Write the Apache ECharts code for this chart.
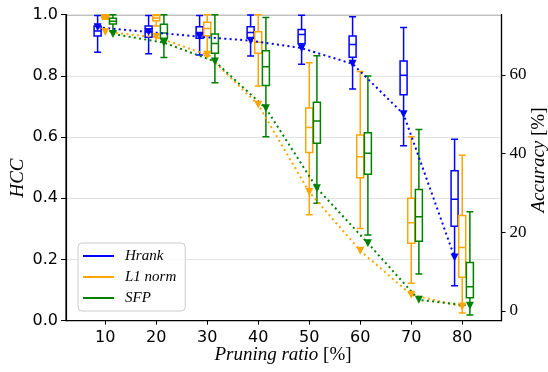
<!DOCTYPE html>
<html>
<head>
<meta charset="utf-8">
<script src="https://cdn.jsdelivr.net/npm/echarts@6/dist/echarts.min.js"></script>
<style>
  html, body {margin: 0; padding: 0; background: #fff;}
  #chart {width: 548px; height: 372px;}
</style>
</head>
<body>
<div id="chart"></div>
<script>
// pruning ratios (x categories)
const ratios = [10, 20, 30, 40, 50, 60, 70, 80];
// box plot stats per ratio: [min, Q1, median, Q3, max] of HCC
const hrankBox = [
  [0.877, 0.930, 0.947, 0.963, 0.997],
  [0.872, 0.926, 0.944, 0.963, 0.997],
  [0.868, 0.923, 0.942, 0.961, 0.997],
  [0.865, 0.923, 0.942, 0.961, 0.999],
  [0.838, 0.905, 0.935, 0.952, 0.998],
  [0.757, 0.861, 0.903, 0.930, 0.993],
  [0.572, 0.738, 0.802, 0.849, 0.958],
  [0.114, 0.309, 0.397, 0.490, 0.593]
];
const l1Box = [
  [0.985, 0.990, 0.995, 1.000, 1.000],
  [0.963, 0.980, 0.989, 0.997, 1.000],
  [0.866, 0.931, 0.955, 0.975, 1.000],
  [0.767, 0.874, 0.910, 0.944, 1.000],
  [0.346, 0.550, 0.631, 0.695, 0.843],
  [0.301, 0.467, 0.536, 0.607, 0.814],
  [0.122, 0.253, 0.320, 0.400, 0.601],
  [0.025, 0.142, 0.239, 0.344, 0.541]
];
const sfpBox = [
  [0.945, 0.970, 0.979, 0.988, 1.000],
  [0.860, 0.923, 0.940, 0.969, 1.000],
  [0.778, 0.874, 0.906, 0.937, 1.000],
  [0.601, 0.769, 0.830, 0.882, 0.991],
  [0.384, 0.580, 0.653, 0.714, 0.866],
  [0.280, 0.479, 0.547, 0.614, 0.800],
  [0.153, 0.260, 0.340, 0.429, 0.625],
  [0.019, 0.075, 0.111, 0.190, 0.356]
];
// accuracy [%] per ratio (right axis)
const hrankAcc = [72.1, 70.9, 69.7, 68.7, 66.8, 62.8, 50.0, 13.6];
const l1Acc = [70.9, 69.6, 65.1, 52.4, 30.2, 15.3, 4.1, 1.1];
const sfpAcc = [70.4, 68.2, 63.4, 51.5, 31.2, 17.2, 2.8, 1.3];
// tick labels
const accTicks = [0, 20, 40, 60];

const methods = [
  {name: 'Hrank', color: '#0000ff', box: hrankBox, acc: hrankAcc, shift: -1.5},
  {name: 'L1 norm', color: '#ffa500', box: l1Box, acc: l1Acc, shift: 0},
  {name: 'SFP', color: '#008000', box: sfpBox, acc: sfpAcc, shift: 1.5}
];

const sans = 'DejaVu Sans';
const serif = 'Liberation Serif';
const xMin = 2.3, xMax = 87.7;

const chart = echarts.init(document.getElementById('chart'));

const lineSeries = methods.map(m => ({
  name: m.name,
  type: 'line',
  xAxisIndex: 0,
  yAxisIndex: 1,
  data: ratios.map((r, i) => [r + m.shift, m.acc[i]]),
  symbol: 'triangle',
  symbolRotate: 180,
  symbolSize: 8,
  itemStyle: {color: m.color},
  lineStyle: {color: m.color, width: 2, type: [2, 3.3]},
  z: 4
}));

// each box series sits on its own (hidden) x axis so echarts does not shift them apart
const boxSeries = methods.map((m, k) => ({
  name: m.name,
  type: 'boxplot',
  xAxisIndex: k + 1,
  yAxisIndex: 0,
  dimensions: ['pos', 'min', 'Q1', 'median', 'Q3', 'max'],
  encode: {x: 'pos', y: ['min', 'Q1', 'median', 'Q3', 'max']},
  data: ratios.map((r, i) => [r + m.shift].concat(m.box[i])),
  boxWidth: [7, 7],
  itemStyle: {color: 'rgba(0,0,0,0)', borderColor: m.color, borderWidth: 1.5},
  z: 3
}));

const hiddenX = () => ({type: 'value', min: xMin, max: xMax, show: false});

chart.setOption({
  animation: false,
  grid: {
    left: 66, right: 46.5, top: 14.7, bottom: 51.3,
    show: true, borderColor: '#000', borderWidth: 1.2, backgroundColor: 'transparent'
  },
  legend: {
    orient: 'vertical',
    left: 78, top: 243,
    padding: [5, 9, 5, 5],
    itemGap: 5,
    itemWidth: 31, itemHeight: 2,
    backgroundColor: 'rgba(255,255,255,0.85)',
    borderColor: '#cccccc', borderWidth: 1, borderRadius: 4,
    textStyle: {fontFamily: serif, fontStyle: 'italic', fontSize: 15, color: '#000', padding: [0, 0, 0, 6], lineHeight: 16},
    data: methods.map(m => ({name: m.name, icon: 'rect', itemStyle: {color: m.color, borderWidth: 0}}))
  },
  xAxis: [
    {
      type: 'value',
      min: xMin, max: xMax,
      axisLine: {show: true, lineStyle: {color: '#000', width: 1.2}},
      axisTick: {show: true, length: 4, customValues: ratios, lineStyle: {color: '#000'}},
      axisLabel: {customValues: ratios, margin: 9, fontFamily: sans, fontSize: 16, color: '#000'},
      splitLine: {show: false}
    },
    hiddenX(), hiddenX(), hiddenX()
  ],
  yAxis: [
    {
      type: 'value',
      min: 0, max: 1, interval: 0.2,
      axisLine: {show: true, lineStyle: {color: '#000', width: 1.2}},
      axisTick: {show: true, length: 5, lineStyle: {color: '#000'}},
      axisLabel: {margin: 8, fontFamily: sans, fontSize: 16, color: '#000', formatter: v => v.toFixed(1)},
      splitLine: {show: true, lineStyle: {color: '#e3e3e3', width: 1}}
    },
    {
      type: 'value',
      position: 'right',
      min: -2.5, max: 75.3,
      axisLine: {show: true, lineStyle: {color: '#000', width: 1.2}},
      axisTick: {show: true, length: 4, customValues: accTicks, lineStyle: {color: '#000'}},
      axisLabel: {customValues: accTicks, margin: 8, fontFamily: serif, fontSize: 17, color: '#000'},
      splitLine: {show: false}
    }
  ],
  graphic: [
    {
      type: 'text', x: 18, y: 178, rotation: Math.PI / 2,
      style: {text: 'HCC', fontFamily: serif, fontStyle: 'italic', fontSize: 19, fill: '#000', align: 'center', verticalAlign: 'middle'}
    },
    {
      type: 'text', x: 283, y: 355,
      style: {
        text: '{i|Pruning ratio} [%]',
        fontFamily: serif, fontSize: 19, fill: '#000', align: 'center', verticalAlign: 'middle',
        rich: {i: {fontFamily: serif, fontStyle: 'italic', fontSize: 19}}
      }
    },
    {
      type: 'text', x: 539, y: 160, rotation: Math.PI / 2,
      style: {
        text: '{i|Accuracy} [%]',
        fontFamily: serif, fontSize: 19, fill: '#000', align: 'center', verticalAlign: 'middle',
        rich: {i: {fontFamily: serif, fontStyle: 'italic', fontSize: 19}}
      }
    }
  ],
  series: lineSeries.concat(boxSeries)
});
</script>
</body>
</html>
